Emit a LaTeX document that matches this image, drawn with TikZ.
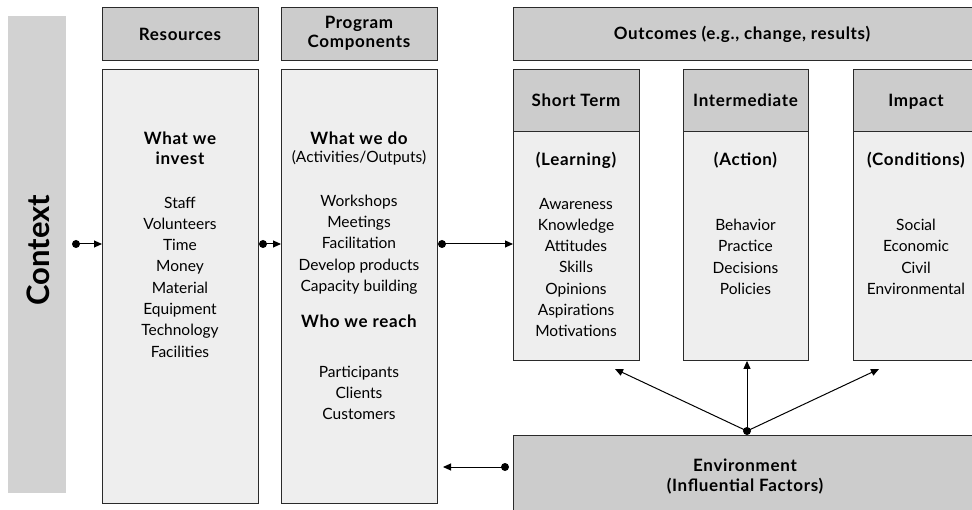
\documentclass[tikz,border=0pt]{standalone}
\usepackage{fontspec}
\setmainfont{Lato}
\newfontfamily\boldsp{Lato}[LetterSpace=4]
\usetikzlibrary{arrows.meta}
\definecolor{hdr}{HTML}{CCCCCC}
\definecolor{bod}{HTML}{EEEEEE}
\definecolor{ctx}{HTML}{D2D2D2}
\definecolor{edge}{HTML}{2A2A2A}
\begin{document}
\begin{tikzpicture}[x=1pt,y=-1pt,
  box/.style={draw=edge, line width=0.9pt, inner sep=0, anchor=north west},
  hdrbox/.style={box, fill=hdr},
  bodybox/.style={box, fill=bod},
  txt/.style={font=\fontsize{15.5}{21.3}\selectfont, align=center, inner sep=0},
  btxt/.style={font=\boldsp\fontsize{17}{20}\selectfont\bfseries, align=center, inner sep=0},
  htxt/.style={font=\boldsp\fontsize{17}{19}\selectfont\bfseries, align=center, inner sep=0},
  link/.style={line width=1pt, draw=black, -{Triangle[length=8pt,width=7pt]}},
  dotc/.style={fill=black}
]
\useasboundingbox (0,0) rectangle (972,510);

% context
\node[fill=ctx, inner sep=0, anchor=north west, minimum width=58, minimum height=477] (ctx) at (8,16) {};
\node[rotate=90, font=\fontsize{31}{31}\selectfont\bfseries, inner sep=0] (ctxt) at (38,250) {Context};

% resources
\node[hdrbox, minimum width=156, minimum height=53] (reshdr) at (102,7) {};
\node[htxt] (reshdrt) at (180,34) {Resources};
\node[bodybox, minimum width=156, minimum height=434] (res) at (102,69) {};
\node[btxt] (resa) at (180,148) {What we\\invest};
\node[txt] (resb) at (180,277) {Staff\\Volunteers\\Time\\Money\\Material\\Equipment\\Technology\\Facilities};

% program components
\node[hdrbox, minimum width=156, minimum height=53] (proghdr) at (281,7) {};
\node[htxt] (proghdrt) at (359,33) {Program\\Components};
\node[bodybox, minimum width=156, minimum height=434] (prog) at (281,69) {};
\node[btxt] (proga) at (359,138) {What we do};
\node[txt] (progaa) at (359,158) {(Activities/Outputs)};
\node[txt] (progb) at (359,244.5) {Workshops\\Meetings\\Facilitation\\Develop products\\Capacity building};
\node[btxt] (progc) at (359,321) {Who we reach};
\node[txt] (progd) at (359,393) {Participants\\Clients\\Customers};

% outcomes
\node[hdrbox, minimum width=465, minimum height=53] (outhdr) at (513,7) {};
\node[htxt] (outhdrt) at (742,34) {Outcomes (e.g., change, results)};

% short term
\node[hdrbox, minimum width=126, minimum height=62] (sthdr) at (513,69) {};
\node[htxt] (sthdrt) at (576,100) {Short Term};
\node[bodybox, minimum width=126, minimum height=229] (st) at (513,131) {};
\node[btxt] (sta) at (576,160) {(Learning)};
\node[txt] (stb) at (576,267.5) {Awareness\\Knowledge\\Attitudes\\Skills\\Opinions\\Aspirations\\Motivations};

% intermediate
\node[hdrbox, minimum width=125, minimum height=62] (imhdr) at (683,69) {};
\node[htxt] (imhdrt) at (745.5,100) {Intermediate};
\node[bodybox, minimum width=125, minimum height=229] (im) at (683,131) {};
\node[btxt] (ima) at (745.5,160) {(Action)};
\node[txt] (imb) at (745.5,257) {Behavior\\Practice\\Decisions\\Policies};

% impact
\node[hdrbox, minimum width=126, minimum height=62] (iphdr) at (853,69) {};
\node[htxt] (iphdrt) at (916,101.8) {Impact};
\node[bodybox, minimum width=126, minimum height=229] (ip) at (853,131) {};
\node[btxt] (ipa) at (916,160) {(Conditions)};
\node[txt] (ipb) at (916,257) {Social\\Economic\\Civil\\Environmental};

% environment
\node[hdrbox, minimum width=466, minimum height=85] (env) at (513,435) {};
\node[btxt] (envt) at (745,476.5) {Environment\\(Influential Factors)};

% connectors
\coordinate (d1) at (76,244);
\coordinate (d2) at (263,244);
\coordinate (d3) at (442,244);
\coordinate (d4) at (505,467);
\coordinate (d5) at (747,431);
\coordinate (e4) at (443,467);
\coordinate (e5l) at (615,369);
\coordinate (e5r) at (879,369);

\draw[link] (d1) -- (d1 -| res.west);
\draw[link] (d2) -- (d2 -| prog.west);
\draw[link] (d3) -- (d3 -| st.west);
\draw[link] (d4) -- (e4);
\draw[link] (d5) -- (d5 |- im.south);
\draw[link] (d5) -- (e5l);
\draw[link] (d5) -- (e5r);
\foreach \d in {d1,d2,d3,d4,d5} \fill[dotc] (\d) circle (4);
\end{tikzpicture}
\end{document}
